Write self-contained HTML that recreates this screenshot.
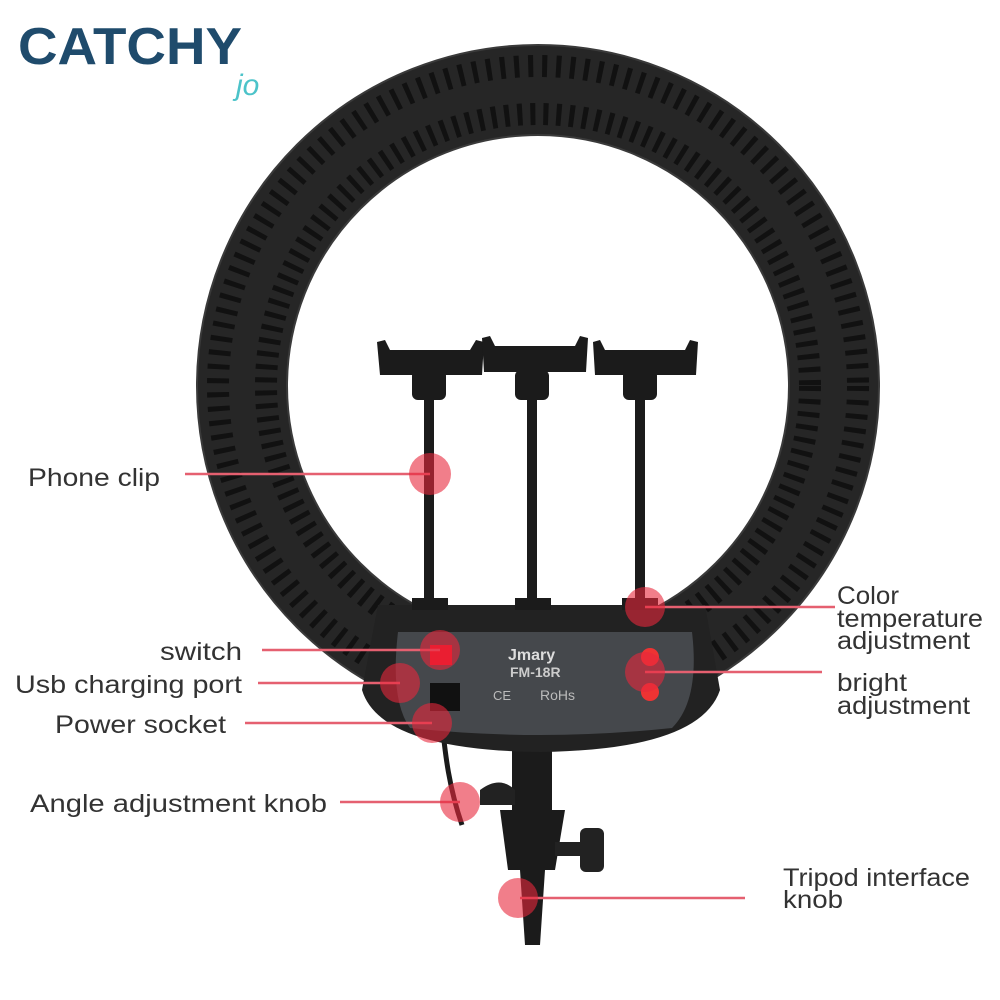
<!DOCTYPE html>
<html><head><meta charset="utf-8"><style>
html,body{margin:0;padding:0;background:#fff}
svg{display:block}
text{font-family:"Liberation Sans",sans-serif}
</style></head><body>
<svg width="1000" height="1000" viewBox="0 0 1000 1000" xmlns="http://www.w3.org/2000/svg">
<rect width="1000" height="1000" fill="#fff"/>
<!-- logo -->
<text x="18" y="64" font-size="52" font-weight="bold" fill="#1f4b6c" textLength="224" lengthAdjust="spacingAndGlyphs">CATCHY</text>
<text x="236" y="95" font-size="30" font-style="italic" fill="#4cc3c9" font-family="Liberation Serif,serif">jo</text>
<!-- ring -->
<circle cx="538" cy="386" r="296" fill="none" stroke="#262626" stroke-width="90"/>
<circle cx="538" cy="386" r="320" fill="none" stroke="#111" stroke-width="22" stroke-dasharray="5 9"/>
<circle cx="538" cy="386" r="272" fill="none" stroke="#111" stroke-width="22" stroke-dasharray="5 8"/>
<circle cx="538" cy="386" r="341" fill="none" stroke="#3a3a3a" stroke-width="2"/>
<circle cx="538" cy="386" r="251" fill="none" stroke="#3a3a3a" stroke-width="2"/>
<!-- stand -->
<rect x="512" y="740" width="40" height="80" fill="#1b1b1b"/>
<path d="M500 810 L565 810 L555 870 L545 870 L540 945 L525 945 L520 870 L508 870 Z" fill="#1b1b1b"/>
<rect x="555" y="842" width="30" height="14" fill="#222"/>
<rect x="580" y="828" width="24" height="44" rx="6" fill="#222"/>
<path d="M480 790 Q500 775 515 790 L515 805 L480 805 Z" fill="#222"/>
<path d="M440 700 C445 760 450 790 462 825" stroke="#1a1a1a" stroke-width="5" fill="none"/>
<!-- control box -->
<path d="M378 605 L705 605 L720 690 Q700 750 540 752 Q380 750 362 690 Z" fill="#222"/>
<path d="M398 632 L692 632 Q700 700 672 728 Q540 742 410 728 Q390 700 398 632 Z" fill="#45484c"/>
<text x="508" y="660" font-size="16" font-weight="bold" fill="#ddd" font-family="Liberation Serif,serif">Jmary</text>
<text x="510" y="677" font-size="14" font-weight="bold" fill="#ccc">FM-18R</text>
<text x="540" y="700" font-size="14" fill="#bbb">RoHs</text>
<text x="493" y="700" font-size="13" fill="#bbb">CE</text>
<rect x="430" y="645" width="22" height="20" fill="#e12"/>
<rect x="430" y="683" width="30" height="28" fill="#111"/>
<circle cx="650" cy="657" r="9" fill="#e33"/>
<circle cx="650" cy="692" r="9" fill="#e33"/>
<!-- phone arms -->
<g fill="#1b1b1b">
<rect x="424" y="390" width="10" height="215"/>
<rect x="527" y="390" width="10" height="215"/>
<rect x="635" y="390" width="10" height="215"/>
<rect x="412" y="370" width="34" height="30" rx="6"/>
<rect x="515" y="370" width="34" height="30" rx="6"/>
<rect x="623" y="370" width="34" height="30" rx="6"/>
<path d="M377 342 L385 340 L390 350 L470 350 L476 340 L484 342 L482 375 L380 375 Z"/>
<path d="M482 338 L490 336 L495 346 L575 346 L580 336 L588 338 L586 372 L484 372 Z"/>
<path d="M593 342 L600 340 L605 350 L685 350 L690 340 L698 342 L696 375 L595 375 Z"/>
<rect x="412" y="598" width="36" height="12"/>
<rect x="515" y="598" width="36" height="12"/>
<rect x="622" y="598" width="36" height="12"/>
</g>
<!-- callouts -->
<g stroke="#e56070" stroke-width="2.5">
<line x1="185" y1="474" x2="430" y2="474"/>
<line x1="262" y1="650" x2="440" y2="650"/>
<line x1="258" y1="683" x2="400" y2="683"/>
<line x1="245" y1="723" x2="432" y2="723"/>
<line x1="340" y1="802" x2="460" y2="802"/>
<line x1="520" y1="898" x2="745" y2="898"/>
<line x1="645" y1="607" x2="835" y2="607"/>
<line x1="645" y1="672" x2="822" y2="672"/>
</g>
<g fill="rgba(232,40,60,0.6)">
<circle cx="430" cy="474" r="21"/>
<circle cx="440" cy="650" r="20"/>
<circle cx="400" cy="683" r="20"/>
<circle cx="432" cy="723" r="20"/>
<circle cx="460" cy="802" r="20"/>
<circle cx="518" cy="898" r="20"/>
<circle cx="645" cy="607" r="20"/>
<circle cx="645" cy="672" r="20"/>
</g>
<g font-size="25" fill="#333">
<text x="28" y="486" textLength="132" lengthAdjust="spacingAndGlyphs">Phone clip</text>
<text x="160" y="660" textLength="82" lengthAdjust="spacingAndGlyphs">switch</text>
<text x="15" y="693" textLength="227" lengthAdjust="spacingAndGlyphs">Usb charging port</text>
<text x="55" y="733" textLength="171" lengthAdjust="spacingAndGlyphs">Power socket</text>
<text x="30" y="812" textLength="297" lengthAdjust="spacingAndGlyphs">Angle adjustment knob</text>
<text x="783" y="886" textLength="187" lengthAdjust="spacingAndGlyphs">Tripod interface</text>
<text x="783" y="908" textLength="60" lengthAdjust="spacingAndGlyphs">knob</text>
<text x="837" y="604" textLength="62" lengthAdjust="spacingAndGlyphs">Color</text>
<text x="837" y="627" textLength="146" lengthAdjust="spacingAndGlyphs">temperature</text>
<text x="837" y="649" textLength="133" lengthAdjust="spacingAndGlyphs">adjustment</text>
<text x="837" y="691" textLength="70" lengthAdjust="spacingAndGlyphs">bright</text>
<text x="837" y="714" textLength="133" lengthAdjust="spacingAndGlyphs">adjustment</text>
</g>
</svg>
</body></html>
